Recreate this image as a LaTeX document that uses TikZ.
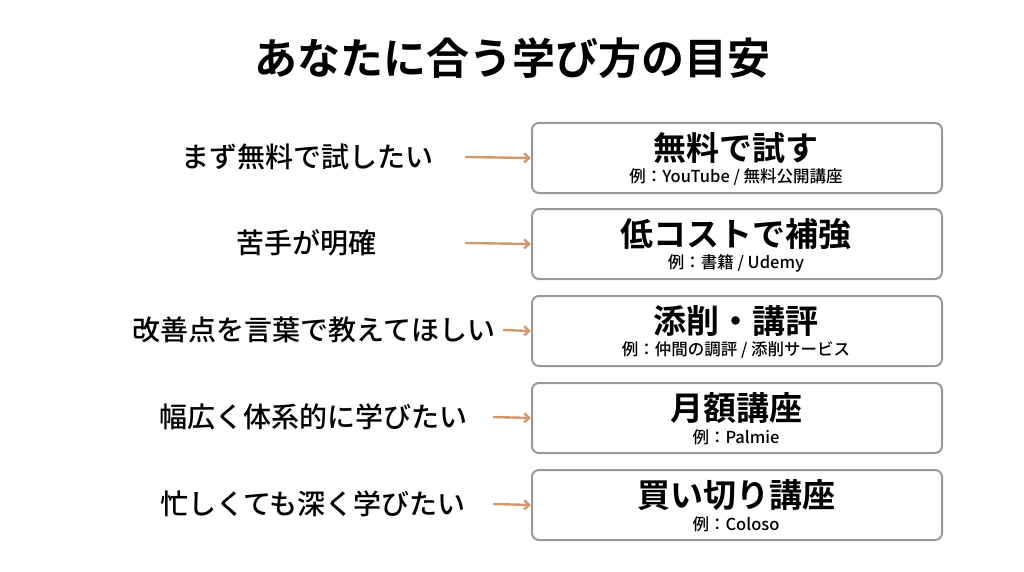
\documentclass[tikz,border=0pt]{standalone}
\usepackage{fontspec}
\setmainfont{Noto Sans CJK JP}[BoldFont={* Bold}]
\newfontfamily\medium{Noto Sans CJK JP Medium}
\usetikzlibrary{arrows.meta}
\begin{document}
\begin{tikzpicture}[x=1pt,y=-1pt,
  box/.style={draw=black!40,line width=2pt,rounded corners=7pt,minimum width=410pt,minimum height=70pt,anchor=north west},
  lab/.style={font=\medium\fontsize{28}{30}\selectfont,anchor=center},
  btitle/.style={font=\bfseries\fontsize{33}{36}\selectfont},
  bsub/.style={font=\medium\fontsize{16.5}{18}\selectfont},
  arr/.style={draw={rgb,255:red,212;green,152;blue,112},line width=2.4pt,-{Straight Barb[length=5pt,width=9pt]}}]
\useasboundingbox (0,0) rectangle (1024,572);
\node[font=\bfseries\fontsize{43}{46}\selectfont] (title) at (512,58) {あなたに合う学び方の目安};
\foreach \i/\y/\lx/\ax/\l/\t/\s in {
 1/122/307/465/まず無料で試したい/無料で試す/{例：YouTube / 無料公開講座},
 2/208/306/465/苦手が明確/低コストで補強/{例：書籍 / Udemy},
 3/295/314/503/改善点を言葉で教えてほしい/添削・講評/{例：仲間の調評 / 添削サービス},
 4/382/313/493/幅広く体系的に学びたい/月額講座/{例：Palmie},
 5/469/313/493/忙しくても深く学びたい/買い切り講座/{例：Coloso}}{
  \node[box] (b\i) at (531,\y) {};
  \node[btitle] (t\i) at (736,\y+26) {\t};
  \node[bsub] (s\i) at (736,\y+55) {\s};
  \node[lab] (l\i) at (\lx,\y+35) {\l};
  \coordinate (a\i) at (\ax,\y+35);
  \draw[arr] (a\i) -- (b\i.west);
}
\end{tikzpicture}
\end{document}
